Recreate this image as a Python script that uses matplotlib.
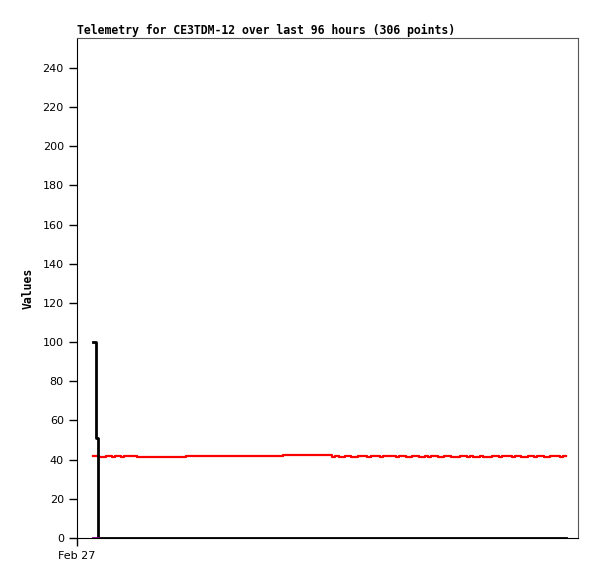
import numpy as np
import matplotlib
matplotlib.use("Agg")
import matplotlib.pyplot as plt

# time in hours since Feb 27 00:00
black_t = [3.07, 3.64, 4.02, 93.7]
black_v = [100, 51, 0, 0]

purple_t = [3.07, 4.02]
purple_v = [0, 0]

# red series, stored per segment: (start hour, end hour, values)
red_seg1 = [42.0, 42.0, 41.5, 41.5, 42.0, 42.0, 41.5, 42.0, 42.0, 41.6, 42.0, 42.0, 42.0, 42.0, 41.5]
red_seg2 = [41.2, 41.2]
red_seg3 = [41.7, 41.7]
red_seg4 = [42.2, 42.2]
red_seg5 = [41.4, 41.8, 41.4, 41.4, 41.8, 41.8, 41.4, 41.4, 41.8, 41.8, 41.8, 41.4,
            41.8, 41.8, 41.8, 41.4, 41.8, 41.8, 41.8, 41.8, 41.4, 41.8, 41.8, 41.4,
            41.4, 41.8, 41.8, 41.4, 41.4, 41.8, 41.4, 41.8, 41.8, 41.4, 41.4, 41.8,
            41.8, 41.4, 41.4, 41.4, 41.8, 41.8, 41.4, 41.8, 41.4, 41.4, 41.8, 41.4,
            41.4, 41.4, 41.8, 41.8, 41.4, 41.8, 41.8, 41.8, 41.4, 41.8, 41.8, 41.4,
            41.4, 41.8, 41.8, 41.4, 41.8, 41.8, 41.4, 41.4, 41.8, 41.8, 41.8, 41.4,
            41.8, 41.8]
red_bounds = [(3.07, 11.5), (11.5, 20.9), (20.9, 39.5), (39.5, 48.9), (48.9, 93.7)]
red_values = [red_seg1, red_seg2, red_seg3, red_seg4, red_seg5]

red_t, red_v = [], []
for (a, b), vals in zip(red_bounds, red_values):
    red_t.extend(np.linspace(a, b, len(vals)))
    red_v.extend(vals)

fig = plt.figure(figsize=(5.97, 5.79), dpi=100)
ax = fig.add_axes([77 / 597, 41 / 579, 501 / 597, 500 / 579])

ax.plot(red_t, red_v, color="red", lw=1.6, drawstyle="steps-post")
ax.plot(black_t, black_v, color="black", lw=2, drawstyle="steps-post")
ax.plot(purple_t, purple_v, color="purple", lw=2)

ax.set_xlim(0, 96)
ax.set_ylim(0, 255.3)
ax.set_yticks(range(0, 241, 20))
ax.set_xticks([0])
ax.set_xticklabels(["Feb 27"])
ax.tick_params(labelsize=8, length=6, width=1, colors="black")

for s in ["top", "right"]:
    ax.spines[s].set_color("#555555")
for s in ["left", "bottom"]:
    ax.spines[s].set_color("black")

ax.set_title("Telemetry for CE3TDM-12 over last 96 hours (306 points)",
             loc="left", fontsize=8.3, fontweight="bold", family="DejaVu Sans Mono", pad=3)
ax.set_ylabel("Values", fontsize=8.3, fontweight="bold", family="DejaVu Sans Mono", labelpad=6)

fig.savefig("out.png", dpi=100)
